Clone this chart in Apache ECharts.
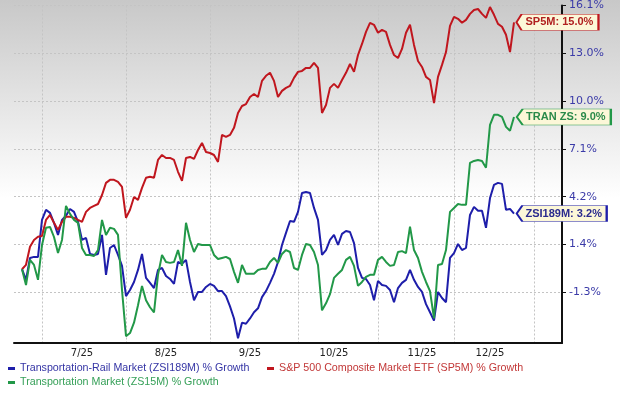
<!DOCTYPE html>
<html>
<head>
<meta charset="utf-8">
<script src="https://cdn.jsdelivr.net/npm/echarts@6.0.0/dist/echarts.min.js"></script>
<style>
  html, body { margin: 0; padding: 0; background: #fff; }
  #chart { width: 620px; height: 397px; }
</style>
</head>
<body>
<div id="chart"></div>
<script>
// trading-day slots on the x axis, data starts at slot 2
const slotCount = 138;
const startSlot = 2;
const monthStartSlots = [7, 28, 49, 71, 91, 110, 130];
const monthLabelSlots = [17, 38, 59, 80, 102, 119];
const monthLabels = ["7/25", "8/25", "9/25", "10/25", "11/25", "12/25"];

// right axis tick labels (log-spaced growth scale)
const yTickLabels = ["-1.3%", "1.4%", "4.2%", "7.1%", "10.0%", "13.0%", "16.1%"];

// % growth, one value per trading day
const rail = [
  0.0, -0.60, 0.64, 0.70, 0.70, 2.83, 3.42, 3.24, 2.66, 1.96,
  2.83, 3.07, 3.47, 3.30, 2.72, 1.67, 1.79, 0.87, 0.81, 0.87,
  1.96, -0.32, 1.21, 1.38, 0.81, 0.19, -1.51, -1.17, -0.72, -0.04,
  0.87, -0.49, -0.77, -1.06, -0.04, 0.07, -0.38, -0.55, -0.83, 0.41,
  0.30, 0.53, -0.72, -1.74, -1.28, -1.28, -1.00, -0.83, -0.94, -1.23,
  -1.23, -1.51, -2.08, -2.75, -3.83, -2.98, -3.04, -2.75, -2.41, -2.19,
  -1.57, -1.23, -0.77, -0.26, 0.41, 1.38, 2.08, 2.77, 2.72, 3.30,
  4.41, 4.47, 4.41, 3.53, 2.83, 0.81, 1.09, 1.67, 1.96, 1.38,
  2.02, 2.19, 2.13, 1.49, 0.07, -0.49, -0.55, -0.89, -1.74, -0.66,
  -0.89, -0.94, -1.17, -1.85, -1.06, -0.77, -0.60, -0.04, -0.60, -1.00,
  -1.28, -1.96, -2.41, -2.87, -1.28, -1.62, -1.85, 0.64, 0.92, 1.44,
  1.09, 1.21, 3.12, 3.59, 3.36, 3.36, 2.37, 4.11, 4.89, 5.01,
  4.95, 3.42, 3.47, 3.2
];
const sp500 = [
  0.0, 0.25, 1.28, 1.67, 1.85, 1.90, 2.83, 3.12, 2.66, 2.25,
  2.72, 3.01, 3.01, 2.95, 2.83, 2.72, 3.30, 3.53, 3.65, 3.76,
  4.29, 5.01, 5.19, 5.19, 5.07, 4.77, 2.95, 3.42, 4.17, 4.00,
  4.71, 5.31, 5.37, 5.31, 6.38, 6.68, 6.50, 6.50, 6.38, 5.67,
  5.13, 6.50, 6.56, 6.44, 6.98, 7.41, 6.86, 6.80, 6.68, 6.26,
  7.90, 7.78, 7.90, 8.33, 9.25, 9.68, 9.80, 10.24, 10.43, 10.24,
  11.25, 11.57, 11.76, 11.25, 10.24, 10.62, 10.81, 10.94, 11.44, 11.82,
  11.88, 12.07, 12.07, 12.39, 12.07, 9.25, 9.74, 10.81, 11.06, 10.81,
  11.31, 11.76, 12.32, 11.82, 12.89, 13.60, 14.38, 14.97, 14.84, 14.32,
  14.51, 14.38, 13.54, 12.89, 12.70, 13.28, 14.32, 14.84, 13.54, 12.51,
  12.13, 11.50, 11.31, 9.86, 11.50, 12.26, 13.08, 14.77, 15.36, 15.23,
  14.97, 15.16, 15.55, 15.81, 15.87, 15.55, 15.29, 16.00, 15.49, 14.90,
  14.71, 14.19, 13.08, 15.0
];
const transport = [
  0.0, -0.89, 0.53, 0.24, -0.60, 1.38, 2.37, 2.42, 1.84, 0.92,
  1.67, 3.65, 3.18, 2.83, 2.66, 1.21, 0.81, 0.81, 0.75, 1.09,
  2.83, 1.96, 2.37, 2.31, 1.96, -1.17, -3.72, -3.55, -2.98, -2.02,
  -0.94, -1.74, -2.13, -2.41, -0.32, 0.81, 0.41, 0.36, 0.41, 1.09,
  0.19, 2.66, 1.67, 0.98, 1.44, 1.38, 1.38, 1.38, 0.81, 0.58,
  0.64, 0.70, 0.58, -0.15, -0.77, 0.24, -0.26, -0.26, -0.26, -0.04,
  0.02, 0.02, 0.41, 0.64, 0.36, 0.87, 1.09, 0.98, 0.07, -0.04,
  0.81, 1.44, 1.38, 0.98, 0.24, -2.30, -1.91, -1.40, -0.49, -0.26,
  -0.04, 0.53, 0.70, 0.19, -0.94, -0.72, -0.43, -0.32, -0.32, 0.53,
  0.70, 0.41, 0.19, 0.24, 0.98, 1.03, 0.92, 2.44, 1.09, 0.64,
  -0.15, -0.72, -1.23, -2.75, 0.24, 0.30, 1.09, 3.30, 3.53, 3.76,
  3.71, 3.71, 6.20, 6.32, 6.38, 6.32, 5.91, 8.51, 9.13, 9.13,
  9.00, 8.39, 8.15, 9.0
];

// log scale: axis unit = one tick step, 0 at -1.3%
const yBase = Math.log(0.987);
const yStep = (Math.log(1.161) - yBase) / 6;
function toAxis(p) {
  return (Math.log(1 + p / 100) - yBase) / yStep;
}

const slots = Array.from({ length: slotCount }, (_, i) => "d" + i);

function buildSeries(name, values, color, textColor, tag, boxWidth) {
  const data = new Array(startSlot).fill(null).concat(values.map(toAxis));
  const last = values.length - 1 + startSlot;
  return {
    name: name,
    type: "line",
    data: data,
    showSymbol: false,
    color: color,
    lineStyle: { width: 2, color: color },
    silent: true,
    markPoint: {
      symbol: "path://M0,8 L5,0 L80,0 L80,16 L5,16 Z",
      symbolSize: [boxWidth, 16],
      symbolOffset: ["53%", 0],
      itemStyle: { color: "#fcf7d8", borderColor: color, borderWidth: 1 },
      label: {
        show: true,
        position: "inside",
        offset: [2, 0],
        formatter: tag + ": " + values[values.length - 1].toFixed(1) + "%",
        color: textColor,
        fontWeight: "bold",
        fontSize: 11,
        fontFamily: "Liberation Sans, Arial, sans-serif"
      },
      data: [{ coord: [last, toAxis(values[values.length - 1])] }]
    }
  };
}

const legendText = { fontSize: 10.7, fontFamily: "Liberation Sans, Arial, sans-serif" };
const legendBase = {
  icon: "rect", itemWidth: 7, itemHeight: 3, padding: 0, itemGap: 6,
  selectedMode: false, textStyle: legendText
};

const chart = echarts.init(document.getElementById("chart"), null, { renderer: "canvas" });
chart.setOption({
  animation: false,
  backgroundColor: new echarts.graphic.LinearGradient(0, 0, 0, 1, [
    { offset: 0, color: "#c8c8c8" },
    { offset: 0.5, color: "#ffffff" },
    { offset: 1, color: "#ffffff" }
  ]),
  grid: { left: 14, right: 58, top: 5, bottom: 54 },
  legend: [
    Object.assign({}, legendBase, {
      left: 8, top: 363,
      data: [{ name: "Transportation-Rail Market (ZSI189M) % Growth", textStyle: { color: "#3535a5" } }]
    }),
    Object.assign({}, legendBase, {
      left: 267, top: 363,
      data: [{ name: "S&P 500 Composite Market ETF (SP5M) % Growth", textStyle: { color: "#c23838" } }]
    }),
    Object.assign({}, legendBase, {
      left: 8, top: 377,
      data: [{ name: "Transportation Market (ZS15M) % Growth", textStyle: { color: "#36a058" } }]
    })
  ],
  xAxis: {
    type: "category",
    data: slots,
    boundaryGap: false,
    axisLine: { onZero: false, lineStyle: { color: "#111", width: 2 } },
    axisTick: { show: false },
    axisLabel: {
      interval: (i) => monthLabelSlots.includes(i),
      formatter: (v, i) => monthLabels[monthLabelSlots.indexOf(i)],
      color: "#222",
      fontSize: 10,
      fontFamily: "DejaVu Sans",
      margin: 5
    },
    splitLine: {
      show: true,
      interval: (i) => monthStartSlots.includes(i),
      lineStyle: { color: "#c4c4c4", type: [2, 2], width: 1 }
    }
  },
  yAxis: {
    type: "value",
    position: "right",
    min: -1.06,
    max: 6,
    axisLine: { show: true, lineStyle: { color: "#111", width: 2 } },
    axisTick: {
      show: true, length: 4, customValues: [0, 1, 2, 3, 4, 5, 6],
      lineStyle: { color: "#111" }
    },
    axisLabel: {
      customValues: [0, 1, 2, 3, 4, 5, 6],
      formatter: (v) => yTickLabels[Math.round(v)],
      color: "#3b3ba8",
      fontSize: 11,
      fontFamily: "DejaVu Sans",
      margin: 7
    },
    splitLine: { show: true, lineStyle: { color: "#c4c4c4", type: [2, 2], width: 1 } }
  },
  series: [
    buildSeries("Transportation-Rail Market (ZSI189M) % Growth", rail, "#1e1eaa", "#2a2a8e", "ZSI189M", 90),
    buildSeries("S&P 500 Composite Market ETF (SP5M) % Growth", sp500, "#c0161e", "#b02020", "SP5M", 82),
    buildSeries("Transportation Market (ZS15M) % Growth", transport, "#229848", "#2a8a4a", "TRAN ZS", 94)
  ]
});
</script>
</body>
</html>
